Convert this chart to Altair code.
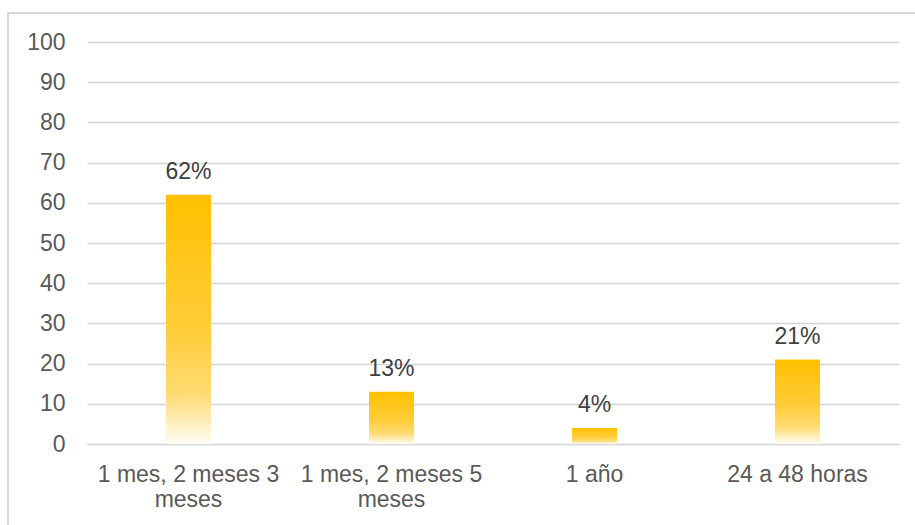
import altair as alt
import pandas as pd

categories = ["1 mes, 2 meses 3 meses", "1 mes, 2 meses 5 meses", "1 año", "24 a 48 horas"]
values = [62, 13, 4, 21]
value_labels = ["62%", "13%", "4%", "21%"]
label_lines = {
    "1 mes, 2 meses 3 meses": ["1 mes, 2 meses 3", "meses"],
    "1 mes, 2 meses 5 meses": ["1 mes, 2 meses 5", "meses"],
}

df = pd.DataFrame({"cat": categories, "val": values, "lab": value_labels})

expr = "datum.label"
for k, v in label_lines.items():
    expr = f"datum.label == '{k}' ? ['{v[0]}', '{v[1]}'] : (" + expr + ")"

FONT = "Liberation Sans"

x_enc = alt.X(
    "cat:N",
    sort=categories,
    title=None,
    scale=alt.Scale(paddingInner=0, paddingOuter=0),
    axis=alt.Axis(
        labelAngle=0,
        labelExpr=expr,
        labelFont=FONT,
        labelFontSize=23,
        labelColor="#595959",
        labelPadding=19,
        labelLineHeight=25,
        labelLimit=1000,
        labelOverlap=False,
        ticks=False,
        domainColor="#D9D9D9",
        domainWidth=1.5,
        grid=False,
    ),
)

y_enc = alt.Y(
    "val:Q",
    title=None,
    scale=alt.Scale(domain=[0, 100], nice=False),
    axis=alt.Axis(
        values=list(range(0, 101, 10)),
        labelFont=FONT,
        labelFontSize=23,
        labelColor="#595959",
        labelPadding=22,
        ticks=False,
        domain=False,
        grid=True,
        gridColor="#D4D4D4",
        gridWidth=1.4,
    ),
)

grad = alt.Gradient(
    gradient="linear",
    x1=0, x2=0, y1=0, y2=1,
    stops=[
        alt.GradientStop(color="#FFC000", offset=0),
        alt.GradientStop(color="#FFCD3A", offset=0.55),
        alt.GradientStop(color="#FFDB73", offset=0.8),
        alt.GradientStop(color="#FFFCF4", offset=1),
    ],
)

border = alt.Chart(df).mark_rect(
    fill=None, stroke="#D9D9D9", strokeWidth=1.5
).encode(
    x=alt.value(-79), x2=alt.value(1100), y=alt.value(-29), y2=alt.value(700)
)

bars = alt.Chart(df).mark_bar(color=grad, size=45).encode(x=x_enc, y=y_enc)

text = alt.Chart(df).mark_text(
    font=FONT, fontSize=23, color="#404040", baseline="alphabetic", dy=-16
).encode(x=alt.X("cat:N", sort=categories), y="val:Q", text="lab:N")

chart = (
    alt.layer(border, bars, text)
    .properties(
        width=812,
        height=402,
        autosize=alt.AutoSizeParams(type="none"),
        padding={"left": 87, "top": 42, "right": 16, "bottom": 81},
        background="white",
    )
    .configure_view(stroke=None)
)

chart.save("out.html", embed_options={"renderer": "svg", "actions": False})
